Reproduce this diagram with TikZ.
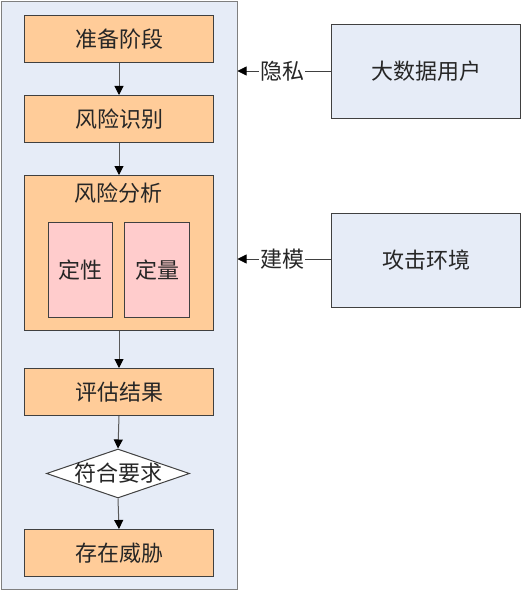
\documentclass[tikz,border=0pt]{standalone}
\usepackage{fontspec}
\setmainfont{Noto Sans CJK SC}
\usetikzlibrary{shapes.geometric,arrows.meta}
\definecolor{boxorange}{HTML}{FFCC99}
\definecolor{panelblue}{HTML}{E6ECF7}
\definecolor{pinkfill}{HTML}{FFCCCC}
\definecolor{edgegray}{HTML}{404040}
\definecolor{panelgray}{HTML}{7F7F7F}
\definecolor{linegray}{HTML}{595959}
\definecolor{txt}{HTML}{262626}
\begin{document}
\begin{tikzpicture}[x=1pt,y=-1pt,
  font=\fontsize{22}{26}\selectfont, text=txt,
  stepbox/.style={draw=edgegray, fill=boxorange, line width=1pt, minimum width=189pt, minimum height=47pt, inner sep=0pt, anchor=north west},
  innerbox/.style={draw=edgegray, fill=pinkfill, line width=1pt, minimum width=64pt, minimum height=95pt, inner sep=0pt, anchor=north west},
  sidebox/.style={draw=edgegray, fill=panelblue, line width=1pt, minimum width=189pt, minimum height=94pt, inner sep=0pt, anchor=north west},
  arr/.style={draw=linegray, line width=1pt, -{Triangle[length=9pt,width=9pt,fill=black,color=black]}},
  plain/.style={draw=edgegray, line width=0.8pt},
  lbl/.style={inner sep=1pt}
]
\useasboundingbox (0,0) rectangle (521,591);
\node[draw=panelgray, fill=panelblue, line width=1.3pt, minimum width=236pt, minimum height=588pt, inner sep=0pt, anchor=north west] (panel) at (1,0.8) {};

\node[stepbox] (prep) at (24,15) {准备阶段};
\node[stepbox] (ident) at (24,95) {风险识别};
\node[stepbox, minimum height=155pt] (anal) at (24,175) {};
\node[inner sep=0pt] (analt) at (118.5,193) {风险分析};
\node[innerbox] (qual) at (48,222) {定性};
\node[innerbox, minimum width=65pt] (quant) at (124,222) {定量};
\node[stepbox] (res) at (24,368) {评估结果};
\node[diamond, draw=edgegray, fill=white, line width=1pt, minimum width=143pt, minimum height=49pt, inner sep=0pt] (dec) at (118,473.5) {};
\node[inner sep=0pt] (dect) at (dec.center) {符合要求};
\node[stepbox] (threat) at (24,529) {存在威胁};

\draw[arr] (prep.south) -- (ident.north);
\draw[arr] (ident.south) -- (anal.north);
\draw[arr] (anal.south) -- (res.north);
\draw[arr] (res.south) -- (dec.north);
\draw[arr] (dec.south) -- (threat.north);

\node[sidebox] (user) at (331,24) {大数据用户};
\node[sidebox] (env) at (331,213) {攻击环境};

\node[lbl] (priv) at (282,71) {隐私};
\node[lbl] (model) at (282,259) {建模};
\coordinate (pin) at (237.5,71);
\coordinate (min) at (237.5,259);
\draw[plain] (user.west |- priv) -- (priv.east);
\draw[plain] (env.west |- model) -- (model.east);
\draw[arr, draw=edgegray, line width=0.8pt] (priv.west) -- (pin);
\draw[arr, draw=edgegray, line width=0.8pt] (model.west) -- (min);
\end{tikzpicture}
\end{document}
